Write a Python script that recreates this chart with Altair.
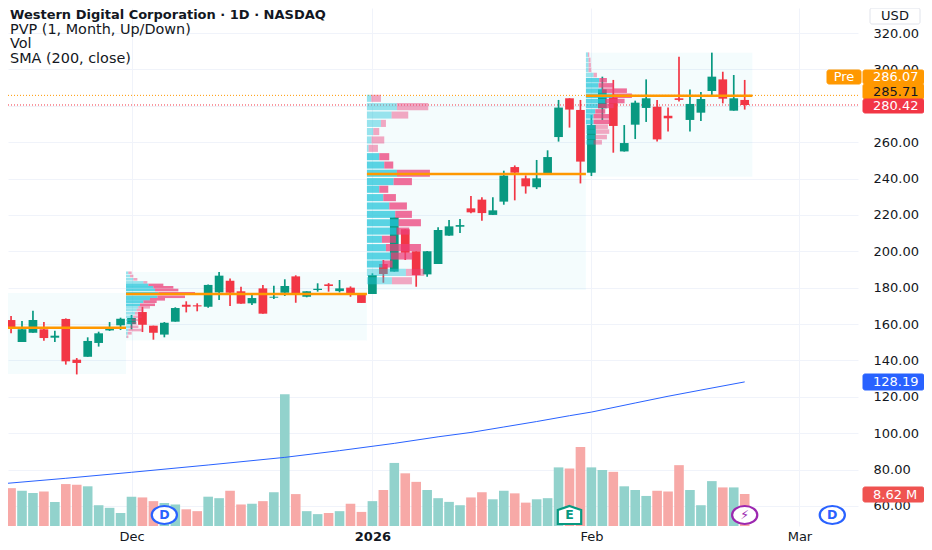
import altair as alt
import pandas as pd

# --- candles: first bar index -12, bar 0 = 1 Dec, bar 22 = 2 Jan, bar 42 = 2 Feb
first_bar = -12
opens = [169.5,162.2,150.1,155.2,157.1,152.5,162.8,140.4,142.0,149.6,156.5,159.3,
         160.0,166.6,159.1,154.2,161.3,170.6,170.3,169.5,177.4,183.8,178.0,171.4,179.6,174.5,177.2,186.2,175.0,178.7,181.8,178.1,180.0,176.0,
         176.5,193.0,188.8,212.1,200.0,187.3,193.0,208.6,213.5,223.6,228.4,220.0,227.3,246.3,240.1,235.2,242.9,262.8,284.1,277.7,
         243.2,278.6,284.6,254.9,269.6,278.8,279.5,274.5,284.1,272.2,276.2,288.1,294.5,277.3,283.2]
closes = [165.9,157.6,157.1,162.2,152.3,153.6,139.5,138.6,150.7,154.9,157.4,162.9,
          163.3,159.6,155.2,160.7,168.8,169.5,169.7,181.5,186.6,177.2,171.2,174.3,165.7,175.0,180.9,176.9,178.0,179.4,180.9,179.6,176.0,171.6,
          186.9,187.5,218.7,199.2,186.9,200.0,211.7,213.7,214.4,221.4,221.0,222.5,241.6,243.2,235.7,240.1,251.8,279.0,277.9,249.3,
          269.4,289.0,268.9,259.5,281.7,284.1,261.5,273.1,283.2,281.0,283.7,296.0,283.9,284.1,280.42]
highs = [170.0,164.4,161.7,167.3,161.1,156.3,163.1,141.3,152.7,155.8,161.1,163.5,
         165.0,169.5,159.1,161.1,169.2,172.5,171.4,181.8,188.6,185.1,180.5,176.0,181.5,181.1,184.6,186.8,178.0,182.4,182.5,184.2,180.7,176.5,
         187.9,195.2,218.7,212.1,200.0,200.2,213.2,217.2,217.7,230.4,229.7,229.7,244.3,247.2,241.7,250.2,255.5,283.2,284.1,283.2,
         274.9,296.0,294.2,269.4,282.8,294.5,283.2,279.0,307.0,289.0,287.6,309.2,298.7,296.9,294.2]
lows = [165.9,154.9,150.1,155.2,150.8,150.1,137.7,132.3,142.0,147.6,156.2,156.7,
        157.1,155.6,151.4,152.7,161.3,166.4,167.0,169.0,173.2,169.9,171.2,170.5,165.7,173.8,175.4,171.7,174.7,177.8,177.8,177.4,175.0,171.6,
        176.5,182.7,188.8,195.2,180.5,186.0,193.0,208.6,210.0,220.9,216.8,220.0,225.6,228.0,231.7,234.2,242.9,260.3,268.0,237.3,
        241.4,272.2,254.2,254.8,261.7,271.1,260.4,265.8,282.4,265.8,271.6,285.9,281.3,277.3,277.9]
volumes_m = [9.7,10.2,9.5,8.9,9.3,6.5,11.3,11.1,10.7,5.6,4.9,3.5,
             7.9,7.7,6.7,6.2,5.8,4.5,4.0,7.9,7.5,9.5,5.8,6.0,6.7,9.1,35.5,8.6,4.0,3.2,3.5,4.0,6.0,3.8,
             6.7,9.7,17.0,14.2,11.9,9.7,7.5,6.5,5.6,7.7,9.1,7.2,9.5,8.8,6.3,7.2,7.5,15.8,15.5,21.3,
             15.8,15.1,14.6,10.7,9.7,8.1,9.5,9.3,16.4,9.7,5.6,12.1,10.4,10.4,8.62]

# --- SMA (200, close), read at selected bars
sma_bars = [-12,-6,0,7,14,19,24,28,31,34,37,40,42,46,49,52,56]
sma_vals = [72.1,75.2,78.5,82.5,86.7,90.4,94.4,98.0,100.4,103.4,106.4,109.6,111.6,116.6,120.3,123.7,128.19]

# --- periodic volume profiles
dec_prices = [188.2,186.4,184.6,182.9,181.5,180.2,178.7,176.9,175.0,173.6,172.3,170.6,169.2,167.7,165.9,164.0,162.2,160.4,158.5,156.7,154.9,153.0]
dec_up = [7,12,22,52,67,82,87,97,94,72,52,42,37,32,27,22,17,17,12,7,5,2]
dec_down = [10,10,12,12,45,60,70,110,83,45,40,45,35,20,20,25,20,15,25,40,12,5]
jan_prices = [284.1,279.5,274.9,270.3,265.8,261.2,256.6,252.0,247.4,242.9,238.3,234.1,229.5,224.9,220.3,215.7,211.1,206.6,202.0,197.4,193.0,188.4,183.8]
jan_up = [13,90,74,42,19,14,5,37,52,90,80,37,49,67,85,95,89,45,57,72,47,117,75]
jan_down = [29,94,50,15,18,38,28,30,27,99,55,27,38,53,50,67,38,42,105,65,30,55,60]
feb_prices = [308.1,305.2,302.4,299.7,296.9,294.0,291.2,288.3,285.5,282.6,279.9,276.9,274.2,271.2,268.5,265.8,262.8,259.9]
feb_up = [6,8,8,8,23,40,38,48,78,58,36,28,23,23,28,30,28,23]
feb_down = [4,6,7,8,10,23,45,75,60,58,47,30,47,50,38,40,35,25]

months_from = [-13,-0.5,21.5,41.5]
months_to = [-0.5,21.5,41.5,56.7]
box_top = [177.0,188.6,285.4,309.2]
box_bottom = [132.5,151.0,178.7,241.0]
poc_price = [158.0,176.5,242.5,285.5]

# --- axis labels, price lines, events
price_ticks = list(range(60,321,20))
month_bars = [0,22,42,61]
last_prices = [285.71,280.42]
last_colors = ["#ff9800","#f23645"]
legend_lines = ["Western Digital Corporation · 1D · NASDAQ","PVP (1, Month, Up/Down)","Vol","SMA (200, close)"]
events_bar = [3,40,56,64]
events_text = ["D","E","⚡","D"]
events_color = ["#2962ff","#089981","#9c27b0","#2962ff"]
events_shape = ["ellipse","house","ellipse","ellipse"]

UP, DOWN = "#089981", "#f23645"
FONT = "DejaVu Sans"
W, H = 850, 518
X_DOM = [(8-131.5)/10.95,(858-131.5)/10.95]
Y_DOM = [320-493/1.819,320+25/1.819]
xs = alt.Scale(domain=X_DOM, nice=False, zero=False, padding=0)
ys = alt.Scale(domain=Y_DOM, nice=False, zero=False, padding=0)
VOL_K = 3.71/1.819

x_axis = alt.Axis(values=month_bars,grid=True,gridColor="#f0f3fa",ticks=False,domain=False,
    labelExpr="datum.value==0?'Dec':datum.value==22?'2026':datum.value==42?'Feb':'Mar'",
    labelFont=FONT,labelFontSize=13,labelColor="#131722",labelPadding=4,title=None,labelFlush=False,labelOverlap=False,
    labelFontWeight=alt.expr("datum.value==22?'bold':'normal'"))
y_axis = alt.Axis(values=price_ticks,orient="right",grid=True,gridColor="#f0f3fa",ticks=False,domain=False,
    format=".2f",labelFont=FONT,labelFontSize=13,labelColor="#131722",labelPadding=15,title=None,labelOverlap=False,labelSeparation=0,tickCount=14)

def X(f): return alt.X(f, scale=xs, axis=x_axis)
def Y(f): return alt.Y(f, scale=ys, axis=y_axis)

c = pd.DataFrame({"bar":range(first_bar,first_bar+len(opens)),"open":opens,"close":closes,"high":highs,"low":lows,"vol":volumes_m})
c["up"] = c.close>=c.open
c["fill"] = c.up.map({True:UP,False:DOWN})
c["volfill"] = c.up.map({True:"#92d2cc",False:"#f7a9a7"})
c["base"] = Y_DOM[0]
c["voltop"] = Y_DOM[0]+c.vol*VOL_K

rows=[]
for prices,ups,downs,start,half,va_hi,va_lo in [
    (dec_prices,dec_up,dec_down,-0.5,0.72,182,170),
    (jan_prices,jan_up,jan_down,21.5,1.95,254,191),
    (feb_prices,feb_up,feb_down,41.5,1.25,295,270)]:
    for p,u,d in zip(prices,ups,downs):
        va = va_lo<=p<=va_hi
        mid=start+u/32.85; end=mid+d/32.85
        rows.append(dict(lo=p-half,hi=p+half,a=start,b=mid,fill="#26c6da",op=.75 if va else .45))
        rows.append(dict(lo=p-half,hi=p+half,a=mid,b=end,fill="#ec407a",op=.75 if va else .45))
prof=pd.DataFrame(rows)
boxes=pd.DataFrame({"a":months_from,"b":months_to,"top":box_top,"bot":box_bottom,"poc":poc_price})

base=alt.Chart(c)
bg=alt.Chart(boxes).mark_rect(color="#26c6da",opacity=.05,clip=True).encode(
    x=X("a:Q"),x2="b:Q",y=Y("top:Q"),y2="bot:Q")
vol=base.mark_bar(size=9.6,orient="vertical",clip=True).encode(
    x=X("bar:Q"),y=Y("voltop:Q"),y2="base:Q",color=alt.Color("volfill:N",scale=None))
sma=alt.Chart(pd.DataFrame({"bar":sma_bars,"v":sma_vals})).mark_line(color="#2962ff",strokeWidth=1,clip=True).encode(
    x=X("bar:Q"),y=Y("v:Q"))
lastl=alt.Chart(pd.DataFrame({"p":last_prices,"col":last_colors})).mark_rule(strokeDash=[1,2],strokeWidth=1).encode(
    y=Y("p:Q"),x=alt.value(0),x2=alt.value(W+2),color=alt.Color("col:N",scale=None))
wick=base.mark_rule(strokeWidth=1.7,clip=True).encode(
    x=X("bar:Q"),y=Y("low:Q"),y2="high:Q",color=alt.Color("fill:N",scale=None))
body=base.mark_bar(size=8.7,orient="vertical",clip=True).encode(
    x=X("bar:Q"),y=Y("open:Q"),y2="close:Q",color=alt.Color("fill:N",scale=None))
pvp=alt.Chart(prof).mark_rect(clip=True).encode(
    x=X("a:Q"),x2="b:Q",y=Y("hi:Q"),y2="lo:Q",
    color=alt.Color("fill:N",scale=None),opacity=alt.Opacity("op:Q",scale=None))
poc=alt.Chart(boxes).mark_rule(color="#ff9800",strokeWidth=2.6,clip=True).encode(
    x=X("a:Q"),x2="b:Q",y=Y("poc:Q"))

ev=pd.DataFrame({"bar":events_bar,"t":events_text,"col":events_color,"shape":events_shape})
ELLIPSE="M -1.4 0 A 1.4 1 0 1 1 1.4 0 A 1.4 1 0 1 1 -1.4 0 Z"
HOUSE="M 0 -1 L 1.3 -0.55 L 1.3 1 L -1.3 1 L -1.3 -0.55 Z"
def ev_layer(kind,path):
    d=ev[ev["shape"]==kind]
    return alt.Chart(d).mark_point(shape=path,size=324,filled=True,fill="white",strokeWidth=2.2,opacity=1).encode(
        x=X("bar:Q"),y=alt.value(507),stroke=alt.Color("col:N",scale=None))
ev_text=alt.Chart(ev).mark_text(font=FONT,fontWeight="bold",fontSize=12.5,baseline="middle",align="center").encode(
    x=X("bar:Q"),y=alt.value(507),text="t:N",color=alt.Color("col:N",scale=None))

def tag(text,l,r,t,b,fill,ink,tx=None,size=13,align="left",stroke=None):
    d=pd.DataFrame({"t":[text]})
    rect=alt.Chart(d).mark_rect(color=fill,cornerRadius=2,stroke=stroke if stroke else fill).encode(
        x=alt.value(l),x2=alt.value(r),y=alt.value(t),y2=alt.value(b))
    txt=alt.Chart(d).mark_text(font=FONT,fontSize=size,color=ink,align=align,baseline="middle").encode(
        x=alt.value(tx if tx is not None else l+10),y=alt.value((t+b)/2),text="t:N")
    return [rect,txt]

tags=[]
tags+=tag("USD",862,912,0,16,"white","#131722",tx=887,align="center",stroke="#e0e3eb")
tags+=tag("Pre",819,853,62,76,"#ff9800","white",tx=836,align="center")
tags+=tag("286.07",855,916,62,76,"#ff9800","white")
tags+=tag("285.71",855,916,76,91,"#ff9800","#131722")
tags+=tag("280.42",855,916,91,105,"#f23645","white")
tags+=tag("128.19",855,916,366,382,"#2962ff","white")
tags+=tag("8.62 M",855,916,479,494,"#ef5350","white")

leg=[]
for i,line in enumerate(legend_lines):
    leg.append(alt.Chart(pd.DataFrame({"t":[line]})).mark_text(font=FONT,fontSize=13 if i==0 else 14.4,color="#131722",
        fontWeight="bold" if i==0 else "normal",align="left",baseline="middle").encode(
        x=alt.value(2),y=alt.value(7+i*14.5),text="t:N"))

chart=alt.layer(bg,lastl,vol,sma,wick,body,pvp,poc,ev_layer("ellipse",ELLIPSE),ev_layer("house",HOUSE),ev_text,*tags,*leg).properties(
    width=W,height=H,padding={"left":0,"top":0,"right":66,"bottom":18},
    autosize=alt.AutoSizeParams(type="none"),background="white"
).configure_view(stroke=None).configure_axis(labelOverlap=False)
chart.save("out.html",embed_options={"renderer":"svg","actions":False})
